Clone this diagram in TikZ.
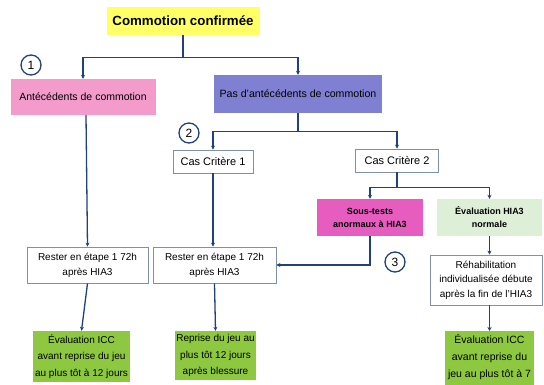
\documentclass[tikz,border=0pt]{standalone}
\usepackage{fontspec}
\setmainfont{Liberation Sans}
\usepackage{xcolor}
\usetikzlibrary{arrows.meta, positioning}

\definecolor{jaune}{HTML}{FFFF66}
\definecolor{rose}{HTML}{F39CCB}
\definecolor{violet}{HTML}{7F80D2}
\definecolor{magenta}{HTML}{E75DBF}
\definecolor{vertclair}{HTML}{DDEFD6}
\definecolor{vert}{HTML}{8DC840}
\definecolor{marine}{HTML}{22407A}
\definecolor{bord}{HTML}{8090A8}

\tikzset{
  boite/.style={rectangle, align=center, inner sep=1pt, font=\fontsize{10}{15}\selectfont},
  blanc/.style={boite, draw=bord, fill=white, line width=0.8pt},
  verte/.style={boite, fill=vert, font=\fontsize{10}{16.5}\selectfont},
  fleche/.style={-{Stealth[length=4pt,width=4pt]}, draw=marine, line width=1.3pt},
  numero/.style={circle, draw=marine, line width=1.3pt, minimum size=20pt, inner sep=0pt, font=\fontsize{12}{12}\selectfont}
}

\begin{document}
\begin{tikzpicture}[x=1pt, y=-1pt]
        \useasboundingbox (0,0) rectangle (544,385);
        \clip (0,0) rectangle (544,385);

        \node[boite, fill=jaune, minimum width=153pt, minimum height=28pt, font=\bfseries\fontsize{13.3}{14}\selectfont] (conf) at (183,21) {Commotion confirmée};
        \node[boite, fill=rose, minimum width=145pt, minimum height=36pt, font=\fontsize{10.5}{12}\selectfont] (ant) at (83,97) {Antécédents de commotion};
        \node[boite, fill=violet, minimum width=168pt, minimum height=38pt, font=\fontsize{10.6}{12}\selectfont] (pas) at (298,94) {Pas d'antécédents de commotion};
        \node[blanc, minimum width=80pt, minimum height=23pt, font=\fontsize{11}{12}\selectfont] (cc1) at (213,161.5) {Cas Critère 1};
        \node[blanc, minimum width=83pt, minimum height=23pt, font=\fontsize{11}{12}\selectfont] (cc2) at (397,160.5) {Cas Critère 2};
        \node[boite, fill=magenta, minimum width=106pt, minimum height=37pt, font=\bfseries\fontsize{9}{13}\selectfont] (sous) at (370,217.5) {Sous-tests\\anormaux à HIA3};
        \node[boite, fill=vertclair, minimum width=105pt, minimum height=37pt, font=\bfseries\fontsize{9}{13}\selectfont] (evn) at (489.5,217.5) {Évaluation HIA3\\normale};
        \node[blanc, minimum width=121pt, minimum height=36pt] (rest1) at (87.5,265) {Rester en étape 1 72h\\après HIA3};
        \node[blanc, minimum width=123pt, minimum height=36pt] (rest2) at (214.5,265) {Rester en étape 1 72h\\après HIA3};
        \node[blanc, minimum width=112pt, minimum height=50pt, font=\fontsize{10}{14.5}\selectfont] (rehab) at (486,280) {Réhabilitation\\individualisée débute\\après la fin de l'HIA3};
        \node[verte, minimum width=97pt, minimum height=51pt] (icc1) at (81.5,356.5) {Évaluation ICC\\avant reprise du jeu\\au plus tôt à 12 jours};
        \node[verte, minimum width=79pt, minimum height=49pt] (rep) at (215.5,355.5) {Reprise du jeu au\\plus tôt 12 jours\\après blessure};
        \node[verte, minimum width=89pt, inner ysep=0pt, anchor=north, font=\fontsize{10.5}{17}\selectfont] (icc2) at (489.5,331) {\strut Évaluation ICC\\avant reprise du\\jeu au plus tôt à 7\\ \strut};

        \node[numero] (n1) at (31,65) {1};
        \node[numero] (n2) at (189,133) {2};
        \node[numero] (n3) at (395,262) {3};

        \draw[fleche] (conf.south) -- ++(0,22) -| (ant.north);
        \draw[fleche] (conf.south) -- ++(0,22) -| (pas.north);
        \draw[fleche] (pas.south) -- ++(0,18) -| (cc1.north);
        \draw[fleche] (pas.south) -- ++(0,18) -| (cc2.north);
        \draw[fleche] (cc2.south) -- ++(0,15) -| (sous.north);
        \draw[fleche] (cc2.south) -- ++(0,15) -| (evn.north);
        \draw[fleche] (sous.south) |- (rest2.east);
        \draw[fleche] ([xshift=3pt]ant.south) -- (rest1.north);
        \draw[fleche] (cc1.south) -- (cc1.south |- rest2.north);
        \draw[fleche] (evn.south) -- (evn.south |- rehab.north);
        \draw[fleche] (rest1.south) -- (icc1.north);
        \draw[fleche] (rest2.south) -- (rep.north);
        \draw[fleche] (icc2.north |- rehab.south) -- (icc2.north);

    \end{tikzpicture}
\end{document}
